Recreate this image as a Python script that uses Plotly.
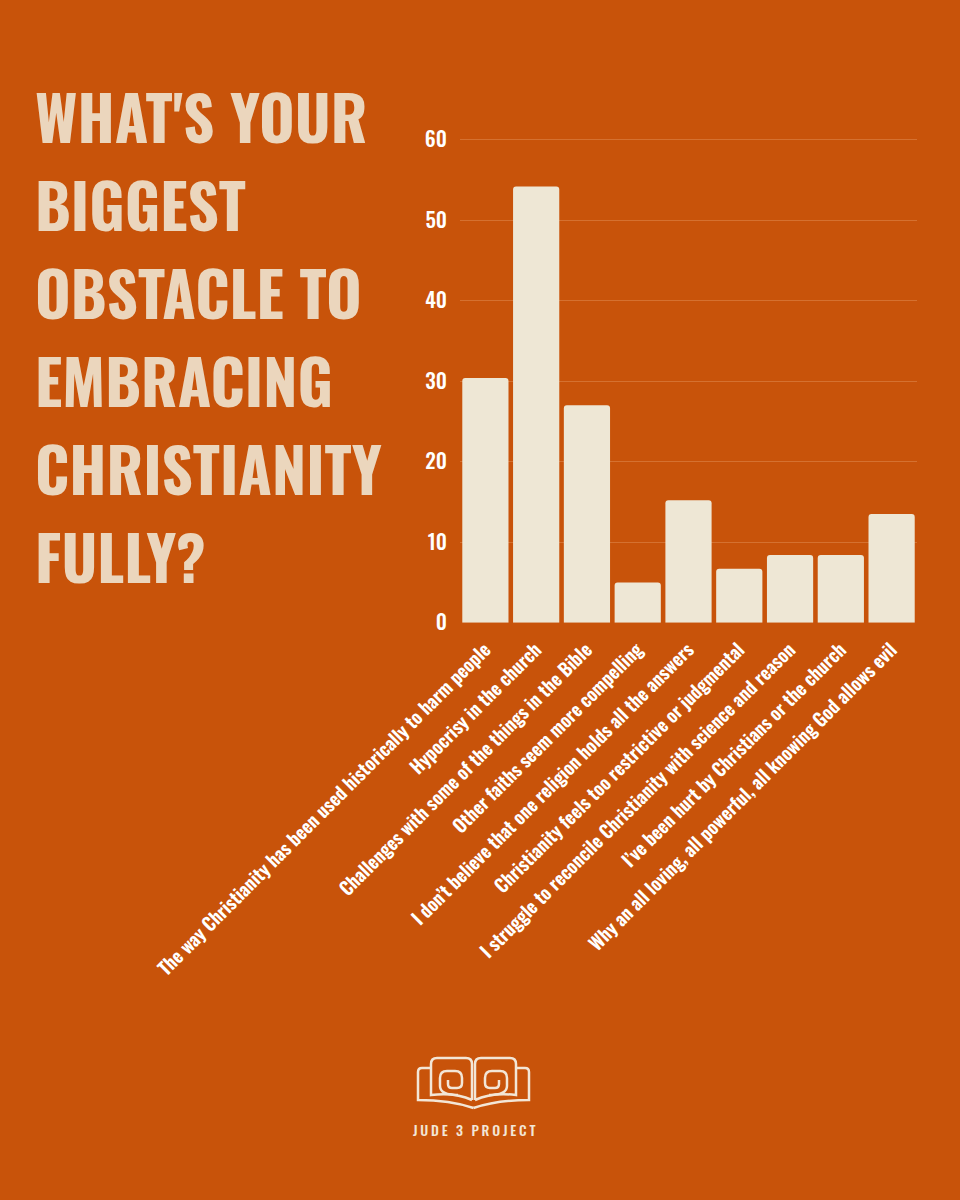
import plotly.graph_objects as go

categories = [
    "The way Christianity has been used historically to harm people",
    "Hypocrisy in the church",
    "Challenges with some of the things in the Bible",
    "Other faiths seem more compelling",
    "I don\u2019t believe that one religion holds all the answers",
    "Christianity feels too restrictive or judgmental",
    "I struggle to reconcile Christianity with science and reason",
    "I\u2019ve been hurt by Christians or the church",
    "Why an all loving, all powerful, all knowing God allows evil",
]
values = [30.4, 54.2, 27.0, 5.0, 15.2, 6.7, 8.4, 8.4, 13.5]
y_ticks = [0, 10, 20, 30, 40, 50, 60]
title_lines = ["WHAT'S YOUR", "BIGGEST", "OBSTACLE TO", "EMBRACING", "CHRISTIANITY", "FULLY?"]

BG = "#C8530A"
BAR = "#EEE7D5"
TITLE = "#EBD6BD"
LOGO = "#F3E6D6"
COND = "Oswald, 'Roboto Condensed', 'Liberation Sans Narrow', 'Arial Narrow', 'DejaVu Sans Condensed', sans-serif"

W, H = 960, 1200

def px(x, y):
    return x / W, 1 - y / H

def path(cmds):
    out = []
    for c in cmds:
        if isinstance(c, str):
            out.append(c)
        else:
            X, Y = px(*c)
            out.append(f"{X:.5f},{Y:.5f}")
    return " ".join(out)

fig = go.Figure(go.Bar(
    x=categories, y=values,
    marker=dict(color=BAR, line=dict(width=0)),
    hoverinfo="skip",
))

fig.update_layout(
    width=W, height=H,
    margin=dict(l=0, r=0, t=0, b=0, autoexpand=False),
    paper_bgcolor=BG, plot_bgcolor=BG,
    showlegend=False,
    bargap=0.09,
    barcornerradius=3,
    font=dict(family=COND, color="white"),
    xaxis=dict(
        domain=[460 / W, 917 / W],
        tickangle=-45,
        tickfont=dict(family=COND, size=18.5, color="white", weight=600),
        showgrid=False, zeroline=False, showline=False, ticks="",
        anchor="y", automargin=False, ticklabelstandoff=12,
    ),
    yaxis=dict(
        domain=[1 - 622.7 / H, 1 - 137.3 / H],
        range=[0, 60.3],
        tickvals=y_ticks,
        ticktext=[str(v) for v in y_ticks],
        tickfont=dict(family=COND, size=21, color="white", weight=500),
        showgrid=True, gridcolor="rgba(255,210,170,0.24)", gridwidth=1,
        zeroline=False, showline=False, ticks="",
        ticklabelstandoff=12, automargin=False,
    ),
)

# Title lines
for i, line in enumerate(title_lines):
    base = 150 + i * 88
    X, Y = px(33, base)
    fig.add_annotation(
        text=line, x=X, y=Y, xref="paper", yref="paper",
        xanchor="left", yanchor="bottom", showarrow=False,
        font=dict(family=COND, size=61, color=TITLE, weight="bold"),
        yshift=-13,
    )

# Logo (decorative)
def mirror(cmds):
    out = []
    for c in cmds:
        if isinstance(c, str):
            out.append(c)
        else:
            out.append((947 - c[0], c[1]))
    return out

page_left = ["M", (472, 1100), "L", (472, 1064), "Q", (472, 1058), (466, 1058), "L", (437, 1058),
             "Q", (431, 1058), (431, 1064), "L", (431, 1095), "Q", (455, 1092), (472, 1100)]
cover_left = ["M", (431, 1068), "L", (422, 1068), "Q", (418, 1068), (418, 1072), "L", (418, 1100),
              "Q", (450, 1100), (473.5, 1108)]
spiral_left = ["M", (458, 1095), "Q", (440, 1095), (440, 1086), "L", (440, 1078), "Q", (440, 1071), (447, 1071),
               "L", (455, 1071), "Q", (462, 1071), (462, 1078), "L", (462, 1083), "Q", (462, 1088), (457, 1088),
               "L", (452, 1088), "Q", (448, 1088), (448, 1084), "L", (448, 1080)]
for cmds in [page_left, cover_left, spiral_left]:
    for c in [cmds, mirror(cmds)]:
        fig.add_shape(type="path", path=path(c), xref="paper", yref="paper",
                      line=dict(color=LOGO, width=2.5), fillcolor="rgba(0,0,0,0)")

X, Y = px(474, 1129)
fig.add_annotation(
    text="\u2009".join("JUDE 3 PROJECT").replace("\u2009 \u2009", "\u2009\u2009\u2009"),
    x=X, y=Y, xref="paper", yref="paper", showarrow=False,
    xanchor="center", yanchor="middle",
    font=dict(family=COND, size=14, color=LOGO, weight=500),
)

fig.write_html("out.html", config={"displayModeBar": False},
               post_script="document.body.style.margin='0';")
